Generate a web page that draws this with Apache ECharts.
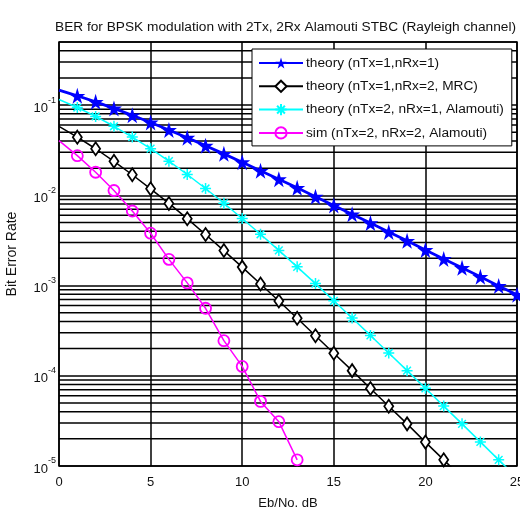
<!DOCTYPE html>
<html>
<head>
<meta charset="utf-8">
<script src="https://cdn.jsdelivr.net/npm/echarts@6/dist/echarts.min.js"></script>
<style>
  html, body { margin: 0; padding: 0; background: #fff; }
  #main { width: 520px; height: 507px; }
</style>
</head>
<body>
<div id="main"></div>
<script>
// Eb/No values (dB)
var ebno = [0, 1, 2, 3, 4, 5, 6, 7, 8, 9, 10, 11, 12, 13, 14, 15, 16, 17, 18, 19, 20, 21, 22, 23, 24, 25];

// BER curves
var berTheory11 = [0.1464, 0.1267, 0.1085, 0.0919, 0.0771, 0.0642, 0.0530, 0.0435, 0.0355, 0.0288, 0.0233, 0.0187, 0.0151, 0.0121, 0.00966, 0.00772, 0.00617, 0.00492, 0.00392, 0.00313, 0.00248, 0.00197, 0.00157, 0.00125, 0.00099, 0.00079];
var berMrc = [0.0581, 0.0441, 0.0328, 0.0238, 0.0169, 0.0118, 0.00813, 0.00551, 0.00368, 0.00244, 0.00160, 0.00104, 0.000674, 0.000434, 0.000278, 0.000178, 0.000114, 7.24e-5, 4.60e-5, 2.93e-5, 1.84e-5, 1.17e-5, 7.4e-6];
var berAlamouti21 = [0.1151, 0.0939, 0.0748, 0.0582, 0.0442, 0.0329, 0.0239, 0.0170, 0.0119, 0.00816, 0.00553, 0.00370, 0.00245, 0.00161, 0.00105, 0.000677, 0.000436, 0.000280, 0.000179, 0.000114, 7.26e-5, 4.61e-5, 2.93e-5, 1.85e-5, 1.17e-5, 7.4e-6];
var berSim22 = [0.0403, 0.0275, 0.0180, 0.0113, 0.0067, 0.0038, 0.00195, 0.00107, 0.00056, 0.000245, 0.000127, 5.2e-5, 3.1e-5, 1.17e-5];

var seriesNames = [
    'theory (nTx=1,nRx=1)',
    'theory (nTx=1,nRx=2, MRC)',
    'theory (nTx=2, nRx=1, Alamouti)',
    'sim (nTx=2, nRx=2, Alamouti)'
];

// minor grid lines (2..9 x 10^n)
var decades = [1e-5, 1e-4, 1e-3, 1e-2, 1e-1];
var mantissas = [2, 3, 4, 5, 6, 7, 8, 9];

var starPath = 'path://M50,0 L61,35 L98,35 L68,57 L79,91 L50,70 L21,91 L32,57 L2,35 L39,35 Z';
var asteriskPath = 'path://M5,0L5,10M0,5L10,5M1.5,1.5L8.5,8.5M8.5,1.5L1.5,8.5';

function toPoints(values) {
    return values.map(function (v, i) {
        var item = { value: [ebno[i], v] };
        if (i === 0) item.symbol = 'none';
        return item;
    });
}

var font = 'Liberation Sans, Arial, sans-serif';

// one flat line per minor grid value, drawn through the axes
var gridSeries = [];
decades.forEach(function (d) {
    mantissas.forEach(function (m) {
        var v = d * m;
        if (v >= 0.5) return;
        gridSeries.push({
            type: 'line',
            silent: true,
            z: 1,
            symbol: 'none',
            data: [[0, v], [25, v]],
            lineStyle: { color: '#000', width: 1.5 },
            tooltip: { show: false }
        });
    });
});

var chartDom = document.getElementById('main');
var myChart = echarts.init(chartDom);

var option = {
    backgroundColor: '#fff',
    animation: false,
    textStyle: { fontFamily: font },
    title: {
        text: 'BER for BPSK modulation with 2Tx, 2Rx Alamouti STBC (Rayleigh channel)',
        left: 50,
        top: 15,
        textStyle: { fontSize: 13.7, fontWeight: 'normal', color: '#111', fontFamily: font }
    },
    grid: {
        left: 59, right: 3, top: 42, bottom: 41,
        outerBoundsMode: 'none',
        containLabel: false,
        show: true,
        borderColor: '#000',
        borderWidth: 1.5,
        backgroundColor: 'transparent'
    },
    legend: {
        data: seriesNames,
        orient: 'vertical',
        left: 252,
        top: 49,
        z: 10,
        padding: [7, 8, 6, 6],
        itemWidth: 44,
        itemHeight: 14,
        itemGap: 9.3,
        backgroundColor: '#fff',
        borderColor: '#000',
        borderWidth: 1,
        borderRadius: 0,
        textStyle: { fontSize: 13.7, color: '#111', fontFamily: font, padding: [0, 0, 0, -2] }
    },
    xAxis: {
        type: 'value',
        min: 0,
        max: 25,
        interval: 5,
        name: 'Eb/No, dB',
        nameLocation: 'middle',
        nameGap: 31,
        nameTextStyle: { fontSize: 13, color: '#111' },
        axisLine: { show: false },
        axisTick: { show: false },
        axisLabel: { fontSize: 13, color: '#111', margin: 10 },
        splitLine: { show: true, lineStyle: { color: '#000', width: 1.5 } }
    },
    yAxis: {
        type: 'log',
        logBase: 10,
        min: 1e-5,
        max: 0.5,
        name: 'Bit Error Rate',
        nameLocation: 'middle',
        nameGap: 40,
        nameTextStyle: { fontSize: 14, color: '#111' },
        axisLine: { show: false },
        axisTick: { show: false },
        axisLabel: {
            margin: 3,
            formatter: function (v) {
                var e = Math.round(Math.log10(v));
                if (Math.abs(Math.pow(10, e) - v) / v > 1e-6) return '';
                return '{b|10}{s|' + e + '}';
            },
            rich: {
                b: { fontSize: 13, color: '#111', fontFamily: font, verticalAlign: 'bottom', padding: [6, 0, 0, 0] },
                s: { fontSize: 9, color: '#111', fontFamily: font, verticalAlign: 'top', padding: [0, 0, 8, 0] }
            }
        },
        splitLine: { show: true, lineStyle: { color: '#000', width: 1.5 } }
    },
    series: gridSeries.concat([
        {
            name: seriesNames[0],
            type: 'line',
            z: 5,
            data: toPoints(berTheory11),
            symbol: starPath,
            symbolSize: 16,
            color: '#0000ff',
            lineStyle: { color: '#0000ff', width: 2.8 },
            itemStyle: { color: '#0000ff' }
        },
        {
            name: seriesNames[1],
            type: 'line',
            z: 4,
            data: toPoints(berMrc),
            symbol: 'diamond',
            symbolSize: [9, 13],
            color: '#000',
            lineStyle: { color: '#000', width: 1.5 },
            itemStyle: { color: '#fff', borderColor: '#000', borderWidth: 1.8 }
        },
        {
            name: seriesNames[2],
            type: 'line',
            z: 4,
            data: toPoints(berAlamouti21),
            symbol: asteriskPath,
            symbolSize: 11,
            color: '#00ffff',
            lineStyle: { color: '#00ffff', width: 1.5 },
            itemStyle: { color: '#00ffff', borderColor: '#00ffff', borderWidth: 1.5 }
        },
        {
            name: seriesNames[3],
            type: 'line',
            z: 4,
            data: toPoints(berSim22),
            symbol: 'circle',
            symbolSize: 11,
            color: '#ff00ff',
            lineStyle: { color: '#ff00ff', width: 1.5 },
            itemStyle: { color: 'transparent', borderColor: '#ff00ff', borderWidth: 1.8 }
        }
    ])
};

myChart.setOption(option);
</script>
</body>
</html>
